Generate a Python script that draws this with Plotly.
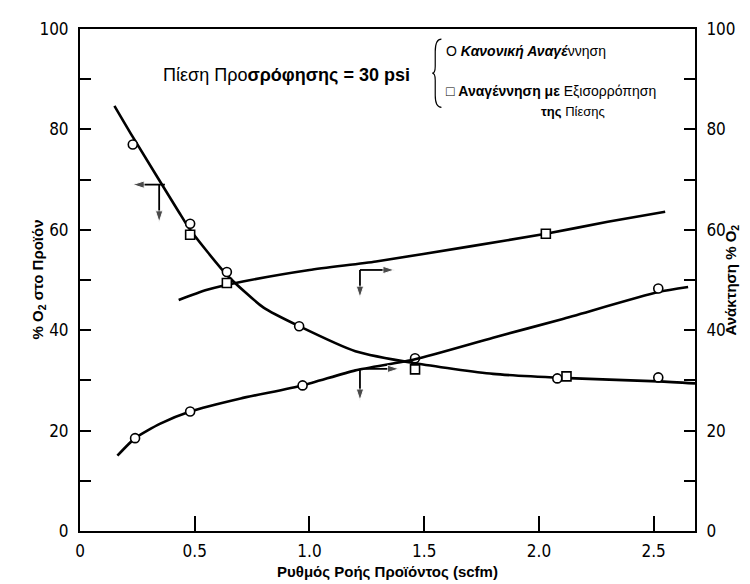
import plotly.graph_objects as go

# ---------------- data ----------------
# Curve A: % O2 in product (left axis)
a_line_x = [0.15, 0.23, 0.43, 0.48, 0.64, 0.80, 0.955, 1.2, 1.46, 1.8, 2.1, 2.52, 2.68]
a_line_y = [84.7, 78.5, 63.6, 60.0, 51.0, 44.5, 40.8, 35.8, 33.4, 31.3, 30.5, 29.8, 29.4]
# Curve B: O2 recovery, lower (right axis)
b_line_x = [0.163, 0.24, 0.35, 0.48, 0.70, 0.97, 1.2, 1.46, 1.8, 2.1, 2.52, 2.65]
b_line_y = [15.0, 18.5, 21.4, 23.8, 26.4, 29.0, 32.0, 34.2, 38.5, 42.2, 47.6, 48.6]
# Curve C: O2 recovery, upper (right axis)
c_line_x = [0.43, 0.55, 0.71, 1.0, 1.29, 1.7, 2.03, 2.3, 2.55]
c_line_y = [46.0, 48.0, 49.7, 52.0, 53.7, 56.7, 59.2, 61.6, 63.6]

# Normal regeneration points (circles)
circ_a_x = [0.23, 0.48, 0.64, 0.955, 1.46, 2.08, 2.52]
circ_a_y = [77.0, 61.2, 51.6, 40.8, 34.4, 30.4, 30.6]
circ_b_x = [0.24, 0.48, 0.97, 2.52]
circ_b_y = [18.5, 23.8, 29.0, 48.3]
# Pressure-equalised regeneration points (squares)
sq_a_x = [0.48, 2.12]
sq_a_y = [59.0, 30.8]
sq_bc_x = [0.64, 1.46, 2.03]
sq_bc_y = [49.4, 32.2, 59.2]

# direction arrows: (tail x, tail y, head x, head y, axis)
arrows = [
    (0.37, 69.0, 0.23, 69.0, "y"),
    (0.345, 69.0, 0.345, 61.5, "y"),
    (1.22, 52.0, 1.37, 52.0, "y2"),
    (1.22, 52.0, 1.22, 46.5, "y2"),
    (1.22, 32.3, 1.39, 32.3, "y2"),
    (1.22, 32.3, 1.22, 26.0, "y2"),
]

x_ticks = [0, 0.5, 1.0, 1.5, 2.0, 2.5]
x_tick_text = ["0", "0.5", "1.0", "1.5", "2.0", "2.5"]

# ---------------- figure ----------------
BLACK = "black"
TICKFONT = dict(family="Liberation Sans Narrow, DejaVu Sans Condensed, Arial Narrow, sans-serif",
                size=17, color=BLACK)
BOLDFONT = dict(family="Liberation Sans, Arial, sans-serif", size=15, color=BLACK)

fig = go.Figure()

line_style = dict(color=BLACK, width=2.6, shape="spline", smoothing=0.6)
fig.add_trace(go.Scatter(x=a_line_x, y=a_line_y, mode="lines", line=line_style,
                         yaxis="y", showlegend=False, hoverinfo="skip"))
fig.add_trace(go.Scatter(x=b_line_x, y=b_line_y, mode="lines", line=line_style,
                         yaxis="y2", showlegend=False, hoverinfo="skip"))
fig.add_trace(go.Scatter(x=c_line_x, y=c_line_y, mode="lines", line=line_style,
                         yaxis="y2", showlegend=False, hoverinfo="skip"))

circ = dict(symbol="circle", size=9, color="white", line=dict(color=BLACK, width=1.6))
sq = dict(symbol="square", size=9, color="white", line=dict(color=BLACK, width=1.6))
fig.add_trace(go.Scatter(x=circ_a_x, y=circ_a_y, mode="markers", marker=circ, yaxis="y",
                         showlegend=False))
fig.add_trace(go.Scatter(x=circ_b_x, y=circ_b_y, mode="markers", marker=circ, yaxis="y2",
                         showlegend=False))
fig.add_trace(go.Scatter(x=sq_a_x, y=sq_a_y, mode="markers", marker=sq, yaxis="y",
                         showlegend=False))
fig.add_trace(go.Scatter(x=sq_bc_x, y=sq_bc_y, mode="markers", marker=sq, yaxis="y2",
                         showlegend=False))

for x0, y0, x1, y1, ax in arrows:
    fig.add_trace(go.Scatter(x=[x0, x1], y=[y0, y1], yaxis=ax, mode="lines+markers",
                             line=dict(color=BLACK, width=1.8),
                             marker=dict(symbol="arrow", size=[0, 12], angleref="previous",
                                         color=BLACK),
                             showlegend=False, hoverinfo="skip"))

# text annotations
fig.add_annotation(x=0.9, y=90.8, xref="x", yref="y", showarrow=False,
                   text="Πίεση Προ<b>σρόφησης = 30 psi</b>",
                   font=dict(family="Liberation Sans, Arial, sans-serif", size=18, color=BLACK))
legend_font = dict(family="Liberation Sans, Arial, sans-serif", size=14, color=BLACK)
fig.add_annotation(x=1.585, y=95.6, xref="x", yref="y", showarrow=False, xanchor="left",
                   text="O <b><i>Κανονική Αναγέ</i></b>ννηση", font=legend_font)
fig.add_annotation(x=1.585, y=87.6, xref="x", yref="y", showarrow=False, xanchor="left",
                   text="□ <b>Αναγέννηση με</b> Εξισορρόπηση", font=legend_font)
fig.add_annotation(x=2.15, y=83.6, xref="x", yref="y", showarrow=False,
                   text="<b>της</b> Πίεσης",
                   font=dict(family="Liberation Sans, Arial, sans-serif", size=13, color=BLACK))
# brace
fig.add_shape(type="path", xref="x", yref="y",
              path="M 1.575,98 Q 1.548,98 1.548,95.5 L 1.548,92.6 Q 1.548,91.2 1.535,91.2 "
                   "Q 1.548,91.2 1.548,89.8 L 1.548,86.8 Q 1.548,84.4 1.575,84.4",
              line=dict(color=BLACK, width=1.2))

# axis titles
fig.add_annotation(x=0, y=0.5, xref="paper", yref="paper", xshift=-54, showarrow=False,
                   textangle=-90, text="<b>% O<sub>2</sub> στο Προϊόν</b>", font=BOLDFONT)
fig.add_annotation(x=1, y=0.5, xref="paper", yref="paper", xshift=47, showarrow=False,
                   textangle=-90, text="<b>Ανάκτηση % O<sub>2</sub></b>", font=BOLDFONT)

axis_common = dict(showline=True, linecolor=BLACK, linewidth=2, showgrid=False,
                   zeroline=False, ticks="inside", tickcolor=BLACK, tickwidth=1.6,
                   tickfont=TICKFONT)
minor_ticks = dict(dtick=10, tick0=0, ticks="inside", ticklen=11, tickwidth=1.6,
                   tickcolor=BLACK, showgrid=False)

fig.update_layout(
    width=750, height=584,
    margin=dict(l=72, r=63, t=21, b=61),
    paper_bgcolor="white", plot_bgcolor="white",
    xaxis=dict(range=[0, 2.68], tickvals=x_ticks, ticktext=x_tick_text, ticklen=15,
               mirror=True, ticklabelstandoff=4,
               title=dict(text="<b>Ρυθμός Ροής Προϊόντος (scfm)</b>", font=BOLDFONT,
                          standoff=6),
               **axis_common),
    yaxis=dict(range=[0, 100], tickmode="linear", tick0=0, dtick=20, ticklen=11,
               ticklabelstandoff=6, minor=minor_ticks, **axis_common),
    yaxis2=dict(range=[0, 100], overlaying="y", side="right", tickmode="linear", tick0=0,
                dtick=20, ticklen=11, ticklabelstandoff=6, minor=minor_ticks,
                **axis_common),
)

fig.write_html("out.html")
